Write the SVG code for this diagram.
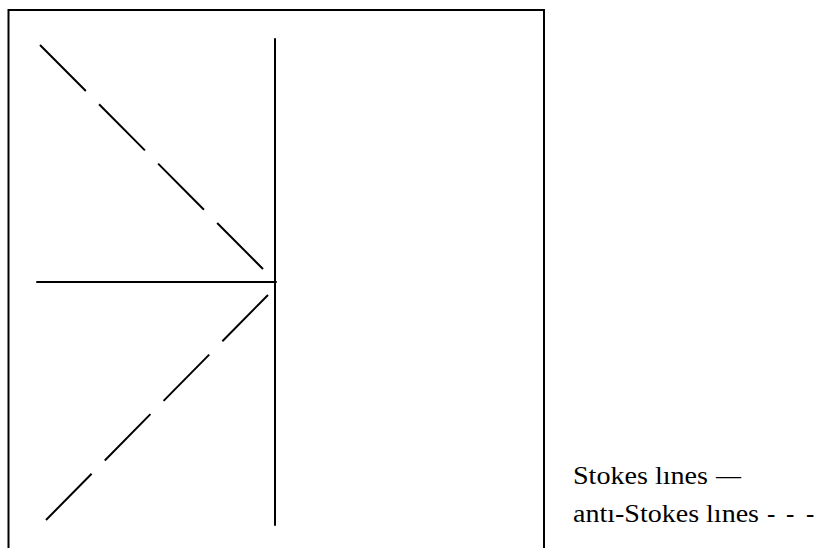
<svg xmlns="http://www.w3.org/2000/svg" width="818" height="548" viewBox="0 0 818 548">
  <style>
    .ln { stroke: #000; stroke-width: 2; fill: none; stroke-linecap: round; }
    .dash { stroke-dasharray: 65 18.7; stroke-linecap: butt; }
    .lbl { font-family: "Liberation Serif", "DejaVu Serif", serif; font-size: 25px; fill: #000; }
  </style>
  <rect width="818" height="548" fill="#fff"/>
  <g id="frame">
    <path class="ln" d="M8.5,548 V10 H544 V548"/>
  </g>
  <g id="connectors">
    <line id="stokes-vertical" class="ln" x1="275" y1="39" x2="275" y2="525"/>
    <line id="stokes-horizontal" class="ln" x1="37" y1="282" x2="276" y2="282"/>
    <line id="anti-stokes-upper" class="ln dash" x1="40" y1="45" x2="263" y2="269"/>
    <line id="anti-stokes-lower" class="ln dash" x1="268" y1="295" x2="46" y2="520"/>
  </g>
  <g id="legend">
    <text class="lbl" y="484"><tspan x="573" textLength="135" lengthAdjust="spacingAndGlyphs">Stokes lınes</tspan><tspan x="716" textLength="25" lengthAdjust="spacingAndGlyphs">—</tspan></text>
    <text class="lbl" y="522"><tspan x="573" textLength="186" lengthAdjust="spacingAndGlyphs">antı-Stokes lınes</tspan><tspan x="767">-</tspan><tspan x="786">-</tspan><tspan x="806">-</tspan></text>
  </g>
</svg>
